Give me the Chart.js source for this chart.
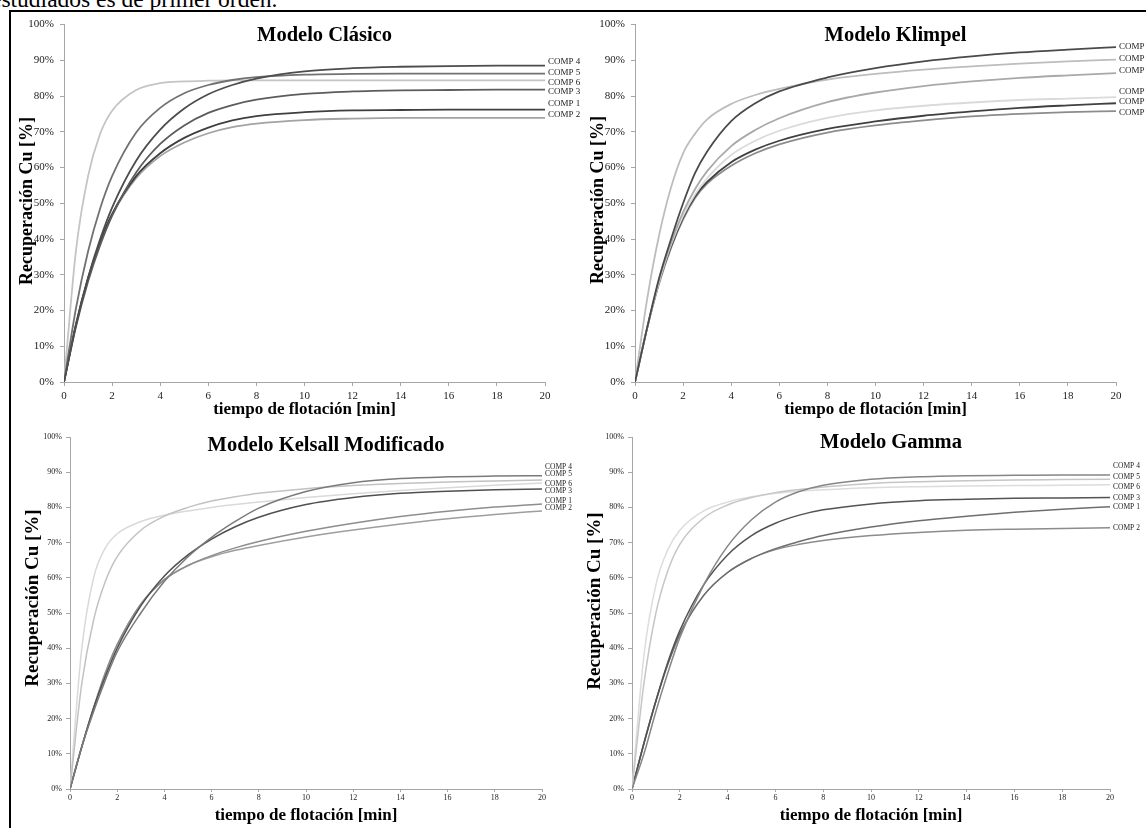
<!DOCTYPE html>
<html><head><meta charset="utf-8">
<script src="https://cdn.jsdelivr.net/npm/chart.js@4.4.0/dist/chart.umd.min.js"></script>
<style>
html,body{margin:0;padding:0;background:#fff;overflow:hidden;width:1146px;height:828px;position:relative;}
#topText{position:absolute;left:-9px;top:-14px;font:23.5px "Liberation Serif";white-space:nowrap;color:#000;}
#frameTop{position:absolute;left:9px;top:10px;width:1200px;height:2px;background:#000;}
#frameLeft{position:absolute;left:9px;top:10px;width:2px;height:830px;background:#000;}
canvas{position:absolute;}
</style></head><body>
<div id="topText">estudiados es de primer orden.</div>
<div id="frameTop"></div><div id="frameLeft"></div>
<canvas id="c1"></canvas><canvas id="c2"></canvas><canvas id="c3"></canvas><canvas id="c4"></canvas>
<script>
// ---------- DATA ----------
const seriesNames = ["COMP 4","COMP 5","COMP 6","COMP 3","COMP 1","COMP 2"];
const xTicks = [0,2,4,6,8,10,12,14,16,18,20];
const yTicks = [0,10,20,30,40,50,60,70,80,90,100];

// Modelo Clásico
const tClasico = [0,0.5,1,1.5,2,3,4,5,6,7,8,10,12,14,16,18,20];
const clasicoComp4 = [0,16.0,29.2,39.9,48.8,61.9,70.6,76.5,80.5,83.1,84.9,86.9,87.8,88.2,88.4,88.5,88.5];
const clasicoComp5 = [0,20.7,36.5,48.5,57.6,69.8,76.7,80.8,83.1,84.5,85.3,86.0,86.2,86.3,86.3,86.3,86.3];
const clasicoComp6 = [0,36.9,57.6,69.4,75.9,81.7,83.6,84.1,84.3,84.4,84.4,84.4,84.4,84.4,84.4,84.4,84.4];
const clasicoComp3 = [0,15.5,28.1,38.2,46.5,58.6,66.6,71.8,75.3,77.5,79.0,80.6,81.3,81.6,81.7,81.8,81.8];
const clasicoComp1 = [0,16.2,29.0,39.1,47.0,57.6,64.0,68.3,71.2,73.2,74.4,75.5,76.0,76.1,76.2,76.2,76.2];
const clasicoComp2 = [0,16.3,29.1,39.0,46.7,57.0,63.2,67.0,69.6,71.3,72.3,73.3,73.7,73.9,73.9,73.9,73.9];

// Modelo Klimpel
const tKlimpel = [0,0.5,1,1.5,2,2.5,3,4,5,6,8,10,12,14,16,18,20];
const klimpelComp4 = [0,15,29,40,50,58.5,64.5,73,78,81.3,85.2,87.8,89.7,91.1,92.2,93.0,93.7];
const klimpelComp5 = [0,23,41,54.5,64,69.5,73.5,77.8,80.3,82,84.6,86.2,87.4,88.3,89.1,89.7,90.2];
const klimpelComp6 = [0,15,28.5,39,47.5,54,59,66,70.5,73.8,78.3,81,82.8,84.1,85.1,85.8,86.4];
const klimpelComp3 = [0,15,28,38.5,46.5,52.5,57,63.5,67.5,70.3,73.9,76,77.3,78.2,78.9,79.3,79.7];
const klimpelComp1 = [0,15,28,38,46,52,56,61.5,65,67.5,70.8,72.9,74.5,75.7,76.7,77.4,78.0];
const klimpelComp2 = [0,15,27.5,37.5,45.5,51.5,55.5,60.5,64,66.5,69.8,71.8,73.2,74.3,75,75.5,75.8];

// Modelo Kelsall Modificado
const tKelsall = [0,0.5,1,1.5,2,3,4,5,6,7,8,10,12,14,16,18,20];
const kelsallComp4 = [0,12,22,31,39,50,59,66,71.5,76,79.8,84.5,87,88.2,88.7,88.9,89.0];
const kelsallComp5 = [0,30,48,59,66,73.5,77.5,80,81.8,83,84,85.3,86.2,86.8,87.2,87.5,87.8];
const kelsallComp6 = [0,40,60,68.5,72.5,76,77.8,79,80,80.8,81.5,82.8,83.9,84.8,85.6,86.3,86.9];
const kelsallComp3 = [0,12,23,32,40,52,60.5,66.5,71,74.5,77.2,80.8,82.8,84,84.6,85,85.2];
const kelsallComp1 = [0,12,23,33,41,52.5,59.5,63.5,66.3,68.5,70.3,73.2,75.5,77.4,78.9,80.1,81.0];
const kelsallComp2 = [0,12,23,33,41,52.5,59.5,63.5,66,67.8,69.2,71.6,73.6,75.3,76.8,78,79.0];

// Modelo Gamma
const tGamma = [0,0.5,1,1.5,2,3,4,5,6,7,8,10,12,14,16,18,20];
const gammaComp4 = [0,10,22,33,43,58,69,76.5,81.5,84.5,86.3,88,88.7,89,89.1,89.2,89.2];
const gammaComp5 = [0,30,50,62,69.5,77,80.7,82.8,84.2,85.1,85.8,86.8,87.3,87.6,87.8,87.9,88.0];
const gammaComp6 = [0,38,58,68,73.5,79,81.5,83,84,84.6,85,85.6,85.9,86.1,86.2,86.3,86.4];
const gammaComp3 = [0,13,25,36,45,58,66.5,72,75.5,77.8,79.3,81,81.9,82.3,82.6,82.7,82.8];
const gammaComp1 = [0,13,25,35.5,44,55,61.5,65.5,68.3,70.3,72,74.4,76.2,77.5,78.6,79.5,80.2];
const gammaComp2 = [0,13,25,35.5,44,55,61.5,65.5,68,69.5,70.6,72,72.9,73.5,73.8,74,74.2];

// ---------- PLUGINS ----------
const endLabels = {
  id:'endLabels',
  afterDatasetsDraw(chart, args, o){
    const ctx = chart.ctx;
    ctx.save();
    ctx.font = o.font; ctx.fillStyle = '#1a1a1a';
    ctx.textBaseline = 'middle'; ctx.textAlign = 'left';
    chart.data.datasets.forEach((ds,i)=>{
      const meta = chart.getDatasetMeta(i);
      const pt = meta.data[meta.data.length-1];
      ctx.fillText(ds.label, pt.x + o.dx, pt.y + o.dy[i]);
    });
    ctx.restore();
  }
};
const panelTitle = {
  id:'panelTitle',
  afterDraw(chart, args, o){
    const ctx = chart.ctx, a = chart.chartArea;
    ctx.save();
    ctx.font = 'bold 20.5px "Liberation Serif"'; ctx.fillStyle = '#000';
    ctx.textAlign = 'center'; ctx.textBaseline = 'alphabetic';
    ctx.fillText(o.text, (a.left + a.right)/2 + o.dx, a.top + o.dy);
    // vertical axis title
    ctx.font = 'bold ' + o.ySize + 'px "Liberation Serif"';
    ctx.textBaseline = 'middle';
    ctx.translate(o.yx, o.yy);
    ctx.rotate(-Math.PI/2);
    ctx.fillText(o.yText, 0, 0);
    ctx.restore();
  }
};

function makeChart(id, box, plot, cfg){
  const cv = document.getElementById(id);
  cv.width = box.w; cv.height = box.h;
  cv.style.left = box.x + 'px'; cv.style.top = box.y + 'px';
  cv.style.width = box.w + 'px'; cv.style.height = box.h + 'px';
  const yW = plot.left - box.x, xH = box.y + box.h - plot.bottom;
  const datasets = cfg.series.map((vals,i)=>({
    label: seriesNames[i],
    data: cfg.times.map((t,k)=>({x:t, y:vals[k]})),
    borderColor: cfg.colors[i], borderWidth: cfg.lw,
    pointRadius: 0, fill:false, cubicInterpolationMode:'monotone'
  }));
  return new Chart(cv, {
    type:'line',
    data:{datasets},
    plugins:[endLabels, panelTitle],
    options:{
      responsive:false, animation:false, devicePixelRatio:1,
      layout:{padding:{top: plot.top - box.y, right: box.x + box.w - plot.right, left:0, bottom:0}},
      plugins:{
        legend:{display:false}, tooltip:{enabled:false},
        endLabels:{font: cfg.labelFont, dx: 3, dy: cfg.labelDy},
        panelTitle:{text: cfg.title, dx: 20, dy: cfg.titleDy,
                    yText:'Recuperación Cu [%]', ySize: cfg.yTitleSize, yx: cfg.yTitleX, yy: cfg.yTitleY}
      },
      scales:{
        x:{type:'linear', min:0, max:20,
           afterBuildTicks: s => { s.ticks = xTicks.map(v=>({value:v})); },
           afterFit: s => { s.height = xH; },
           grid:{drawOnChartArea:false, drawTicks:true, tickLength: cfg.tickLen, color:'#a6a6a6'},
           border:{color:'#a6a6a6', width:1},
           ticks:{font:{family:'Liberation Serif', size: cfg.tickFont}, color:'#222', padding: cfg.xTickPad, maxRotation:0, autoSkip:false},
           title:{display:true, text:'tiempo de flotación [min]', color:'#000',
                  font:{family:'Liberation Serif', size:17, weight:'bold'}, padding:{top:0,bottom: cfg.xTitlePad}}
        },
        y:{type:'linear', min:0, max:100,
           afterBuildTicks: s => { s.ticks = yTicks.map(v=>({value:v})); },
           afterFit: s => { s.width = yW; },
           grid:{drawOnChartArea:false, drawTicks:true, tickLength: 4, color:'#a6a6a6'},
           border:{color:'#a6a6a6', width:1},
           ticks:{font:{family:'Liberation Serif', size: cfg.tickFont}, color:'#222', padding: cfg.yTickPad,
                  callback: v => v + '%'}
        }
      }
    }
  });
}

makeChart('c1', {x:12,y:12,w:588,h:420}, {left:64,right:545,top:24,bottom:382}, {
  title:'Modelo Clásico', titleDy:16, times:tClasico,
  series:[clasicoComp4,clasicoComp5,clasicoComp6,clasicoComp3,clasicoComp1,clasicoComp2],
  colors:['#4d4d4d','#717171','#c4c4c4','#5c5c5c','#3f3f3f','#a3a3a3'], lw:1.8,
  labelFont:'9px "Liberation Serif"', labelDy:[-4,-1,2,2,-6,-3],
  tickFont:11, tickLen:4, xTickPad:4, yTickPad:6, xTitlePad:12,
  yTitleSize:18, yTitleX:15, yTitleY:189
});
makeChart('c2', {x:580,y:12,w:566,h:420}, {left:635,right:1116,top:24,bottom:382}, {
  title:'Modelo Klimpel', titleDy:16, times:tKlimpel,
  series:[klimpelComp4,klimpelComp5,klimpelComp6,klimpelComp3,klimpelComp1,klimpelComp2],
  colors:['#4a4a4a','#bdbdbd','#a9a9a9','#dadada','#404040','#8c8c8c'], lw:1.8,
  labelFont:'9px "Liberation Serif"', labelDy:[0,-1,-3,-6,-2,2],
  tickFont:11, tickLen:4, xTickPad:4, yTickPad:6, xTitlePad:12,
  yTitleSize:18, yTitleX:18, yTitleY:188
});
makeChart('c3', {x:12,y:425,w:588,h:403}, {left:70,right:542,top:437,bottom:789}, {
  title:'Modelo Kelsall Modificado', titleDy:14, times:tKelsall,
  series:[kelsallComp4,kelsallComp5,kelsallComp6,kelsallComp3,kelsallComp1,kelsallComp2],
  colors:['#7a7a7a','#c2c2c2','#d9d9d9','#505050','#8e8e8e','#9e9e9e'], lw:1.5,
  labelFont:'7.5px "Liberation Serif"', labelDy:[-9,-6,1,2,-3,-3],
  tickFont:8, tickLen:3, xTickPad:1, yTickPad:4, xTitlePad:2,
  yTitleSize:19, yTitleX:21, yTitleY:173
});
makeChart('c4', {x:575,y:425,w:571,h:403}, {left:632,right:1110,top:437,bottom:789}, {
  title:'Modelo Gamma', titleDy:11, times:tGamma,
  series:[gammaComp4,gammaComp5,gammaComp6,gammaComp3,gammaComp1,gammaComp2],
  colors:['#868686','#c6c6c6','#dcdcdc','#535353','#6e6e6e','#8c8c8c'], lw:1.5,
  labelFont:'7.5px "Liberation Serif"', labelDy:[-9,-2,2,0,0,0],
  tickFont:8, tickLen:3, xTickPad:1, yTickPad:4, xTitlePad:2,
  yTitleSize:19, yTitleX:20, yTitleY:176
});
</script>
</body></html>
